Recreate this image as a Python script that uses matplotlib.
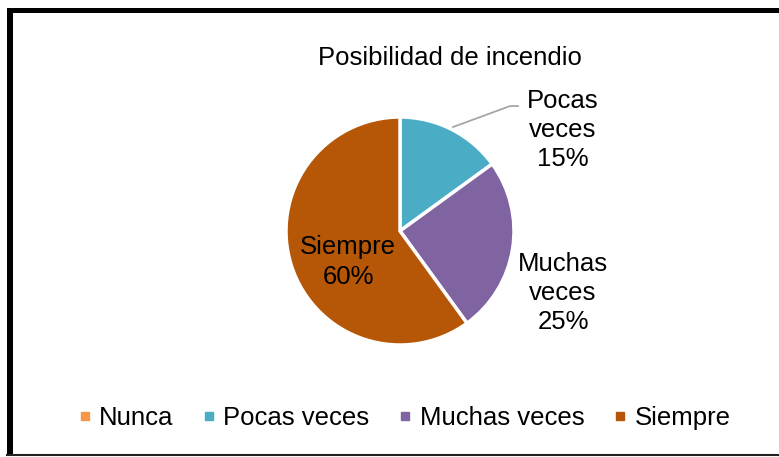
import matplotlib
matplotlib.use("Agg")
import matplotlib.pyplot as plt
from matplotlib.lines import Line2D
from matplotlib.patches import Rectangle

plt.rcParams['font.family'] = ['Liberation Sans', 'DejaVu Sans']

title = "Posibilidad de incendio"
categories = ["Nunca", "Pocas veces", "Muchas veces", "Siempre"]
values = [0, 15, 25, 60]
colors = ["#F79646", "#4BACC6", "#8064A2", "#B65708"]

W, H = 779, 457
fig = plt.figure(figsize=(W / 100, H / 100), dpi=100)
fig.patch.set_facecolor("white")

# pie axes: center (400,231), radius 114 px
cx, cy, r = 400, 231, 114
ax = fig.add_axes([(cx - r) / W, 1 - (cy + r) / H, 2 * r / W, 2 * r / H])
wedges, _ = ax.pie(values, colors=colors, startangle=90, counterclock=False,
                   wedgeprops=dict(edgecolor="white", linewidth=2.5))
ax.set_xlim(-1, 1)
ax.set_ylim(-1, 1)
ax.set_aspect("equal")
ax.axis("off")

fs = 18.5
ls = 1.28
total = sum(values)
pct = [f"{round(v * 100 / total)}%" for v in values]
# Siempre inside
ax.text(-0.456, -0.272, f"{categories[3]}\n{pct[3]}", ha="center", va="center",
        fontsize=fs, linespacing=ls, color="black")
# Muchas veces outside
ax.text(1.43, -0.544, "Muchas\nveces\n" + pct[2], ha="center", va="center",
        fontsize=fs, linespacing=ls, color="black")
# Pocas veces outside with leader
ax.text(1.43, 0.886, "Pocas\nveces\n" + pct[1], ha="center", va="center",
        fontsize=fs, linespacing=ls, color="black")
ax.add_line(Line2D([0.465, 0.965, 1.035], [0.912, 1.096, 1.096],
                   color="#A6A6A6", lw=1.3, clip_on=False))

fig.text(450 / W, 1 - 58 / H, title, ha="center", va="center", fontsize=fs, color="black")

handles = [Line2D([], [], marker="s", linestyle="none", markersize=6,
                  markerfacecolor=c, markeredgecolor=c) for c in colors]
fig.legend(handles, categories, loc="center", bbox_to_anchor=(405 / W, 1 - 418 / H),
           ncol=4, frameon=False, fontsize=fs, handlelength=0.4, handletextpad=0.35,
           columnspacing=1.2)

# frame
fig.add_artist(Rectangle((7 / W, 1 - 13 / H), (W - 7) / W, 5 / H,
                         transform=fig.transFigure, color="black", lw=0))
fig.add_artist(Rectangle((7 / W, 1 - 456 / H), 6 / W, 448 / H,
                         transform=fig.transFigure, color="black", lw=0))
fig.add_artist(Line2D([7 / W, 1], [1 - 455 / H, 1 - 455 / H],
                      transform=fig.transFigure, color="#222222", lw=1.5))

fig.savefig("out.png", dpi=100, facecolor="white")
